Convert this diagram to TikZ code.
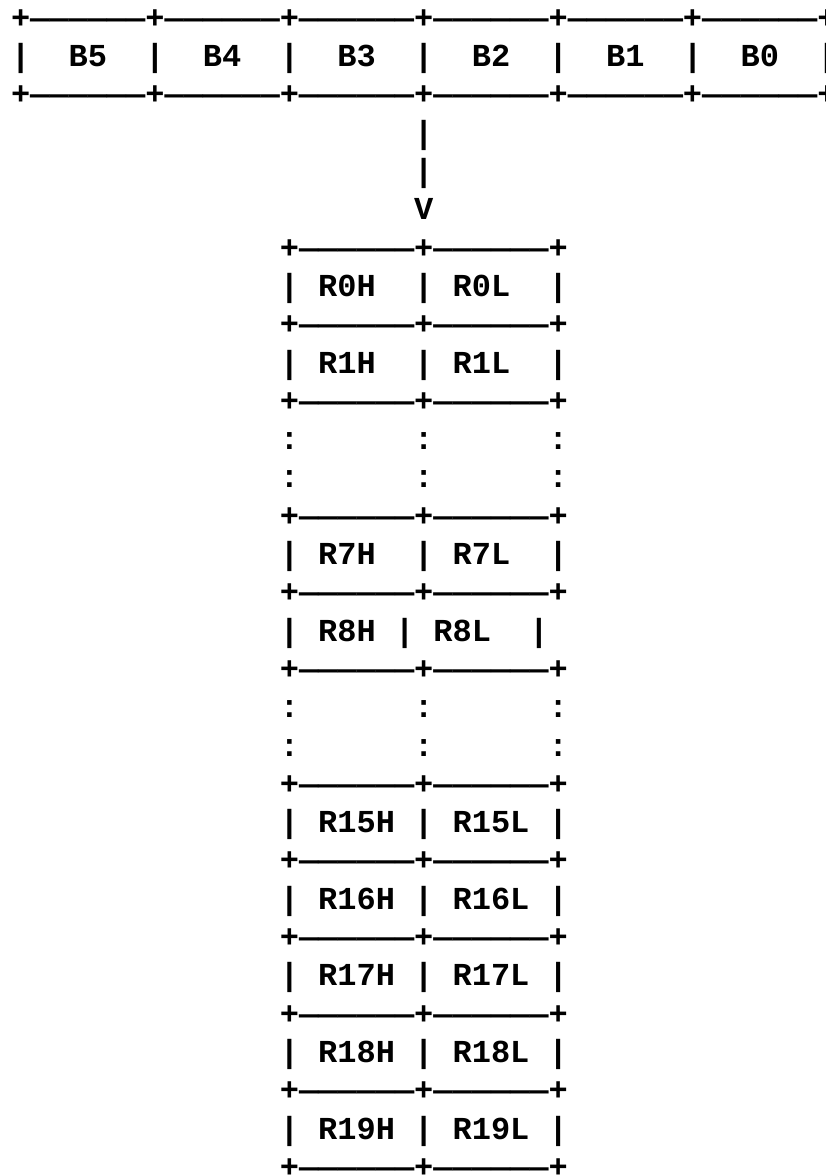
\documentclass[tikz,border=0pt]{standalone}
\usepackage{fontspec}
\setmonofont{Liberation Mono}
\begin{document}
\begin{tikzpicture}[x=1pt,y=1pt,
  row/.style={anchor=base west, inner sep=0pt, outer sep=0pt,
    font=\ttfamily\bfseries\fontsize{32}{38}\selectfont, text=black}]
\def\colx#1{11+19.2*#1}
\def\liney#1{1147.6-38.3*#1}
\useasboundingbox (0,0) rectangle (826,1176);
\fill[white] (0,0) rectangle (826,1176);
% byte row
\node[row] (top0) at ({\colx{0}},{\liney{0}}) {+——————+——————+——————+——————+——————+——————+};
\node[row] (top1) at ({\colx{0}},{\liney{1}}) {|~~B5~~|~~B4~~|~~B3~~|~~B2~~|~~B1~~|~~B0~~|};
\node[row] (top2) at ({\colx{0}},{\liney{2}}) {+——————+——————+——————+——————+——————+——————+};
% arrow
\node[row] (arr3) at ({\colx{21}},{\liney{3}}) {|};
\node[row] (arr4) at ({\colx{21}},{\liney{4}}) {|};
\node[row] (arr5) at ({\colx{21}},{\liney{5}}) {V};
% register table
\node[row] (r6)  at ({\colx{14}},{\liney{6}})  {+——————+——————+};
\node[row] (r7)  at ({\colx{14}},{\liney{7}})  {|~R0H~~|~R0L~~|};
\node[row] (r8)  at ({\colx{14}},{\liney{8}})  {+——————+——————+};
\node[row] (r9)  at ({\colx{14}},{\liney{9}})  {|~R1H~~|~R1L~~|};
\node[row] (r10) at ({\colx{14}},{\liney{10}}) {+——————+——————+};
\node[row] (r11) at ({\colx{14}},{\liney{11}}) {:~~~~~~:~~~~~~:};
\node[row] (r12) at ({\colx{14}},{\liney{12}}) {:~~~~~~:~~~~~~:};
\node[row] (r13) at ({\colx{14}},{\liney{13}}) {+——————+——————+};
\node[row] (r14) at ({\colx{14}},{\liney{14}}) {|~R7H~~|~R7L~~|};
\node[row] (r15) at ({\colx{14}},{\liney{15}}) {+——————+——————+};
\node[row] (r16) at ({\colx{14}},{\liney{16}}) {|~R8H~|~R8L~~|};
\node[row] (r17) at ({\colx{14}},{\liney{17}}) {+——————+——————+};
\node[row] (r18) at ({\colx{14}},{\liney{18}}) {:~~~~~~:~~~~~~:};
\node[row] (r19) at ({\colx{14}},{\liney{19}}) {:~~~~~~:~~~~~~:};
\node[row] (r20) at ({\colx{14}},{\liney{20}}) {+——————+——————+};
\node[row] (r21) at ({\colx{14}},{\liney{21}}) {|~R15H~|~R15L~|};
\node[row] (r22) at ({\colx{14}},{\liney{22}}) {+——————+——————+};
\node[row] (r23) at ({\colx{14}},{\liney{23}}) {|~R16H~|~R16L~|};
\node[row] (r24) at ({\colx{14}},{\liney{24}}) {+——————+——————+};
\node[row] (r25) at ({\colx{14}},{\liney{25}}) {|~R17H~|~R17L~|};
\node[row] (r26) at ({\colx{14}},{\liney{26}}) {+——————+——————+};
\node[row] (r27) at ({\colx{14}},{\liney{27}}) {|~R18H~|~R18L~|};
\node[row] (r28) at ({\colx{14}},{\liney{28}}) {+——————+——————+};
\node[row] (r29) at ({\colx{14}},{\liney{29}}) {|~R19H~|~R19L~|};
\node[row] (r30) at ({\colx{14}},{\liney{30}}) {+——————+——————+};
\end{tikzpicture}
\end{document}
